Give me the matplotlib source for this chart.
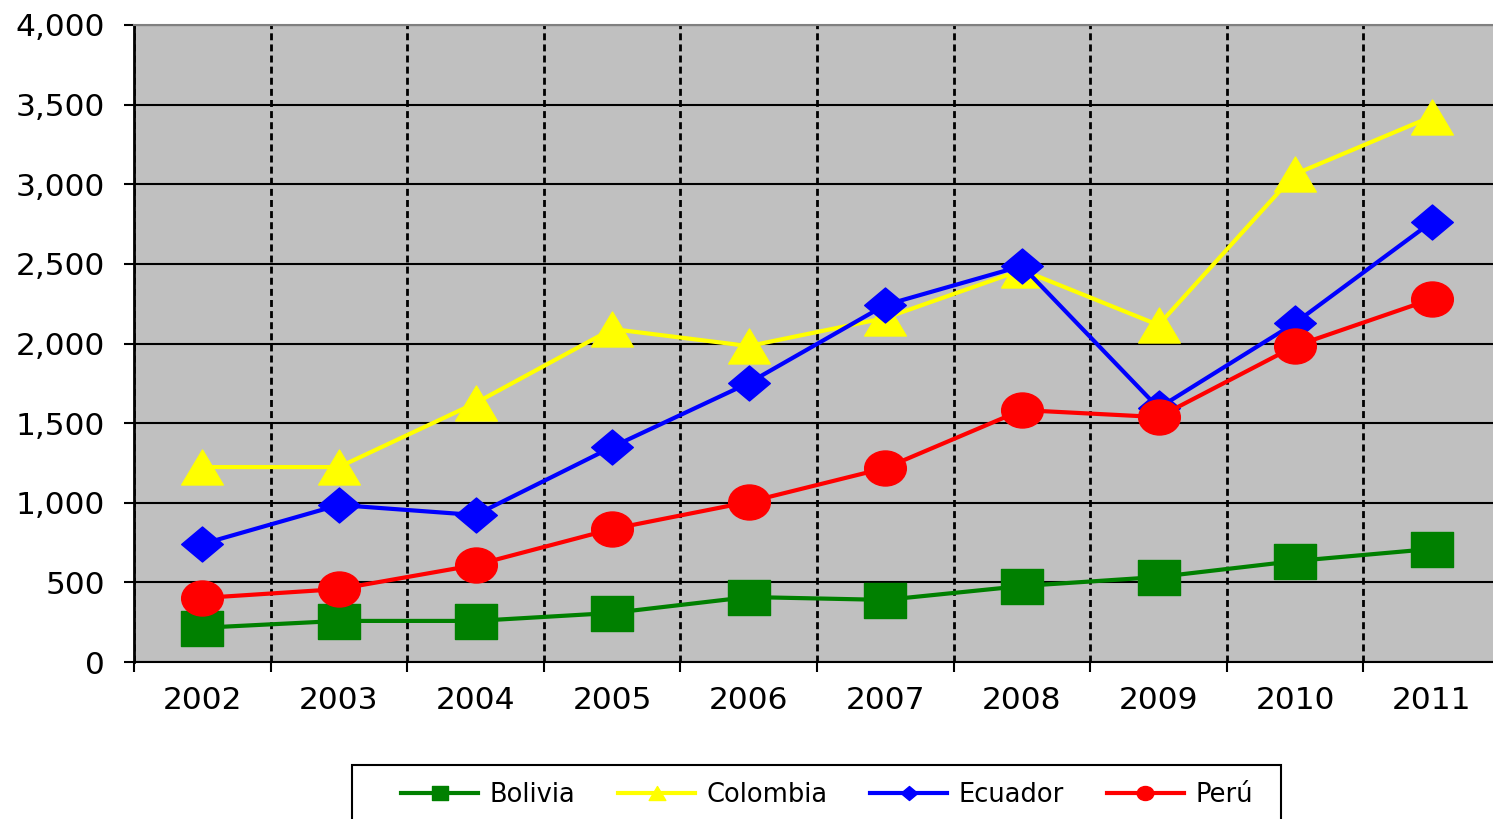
import numpy as np
import matplotlib
matplotlib.use("Agg")
import matplotlib.pyplot as plt
from matplotlib.path import Path
from matplotlib.lines import Line2D
from matplotlib.patches import Rectangle
from matplotlib.ticker import FuncFormatter, MultipleLocator

years = ["2002", "2003", "2004", "2005", "2006", "2007", "2008", "2009", "2010", "2011"]
bolivia = [215, 258, 258, 308, 408, 390, 477, 534, 634, 710]
colombia = [1224, 1224, 1626, 2091, 1984, 2160, 2462, 2116, 3064, 3425]
ecuador = [741, 986, 923, 1350, 1752, 2242, 2487, 1595, 2129, 2763]
peru = [402, 458, 609, 835, 1005, 1218, 1582, 1538, 1984, 2279]

# markers in the picture are a little wider than tall
k = 0.84
sq = Path([(-1, -k), (1, -k), (1, k), (-1, k), (-1, -k)], closed=True)
tri = Path([(-1, -k), (1, -k), (0, k), (-1, -k)], closed=True)
dia = Path([(-1, 0), (0, -k), (1, 0), (0, k), (-1, 0)], closed=True)
circ = Path.unit_circle()
ell = Path(circ.vertices * [1, k], circ.codes)

series = [
    ("Bolivia", bolivia, "#008000", sq),
    ("Colombia", colombia, "#FFFF00", tri),
    ("Ecuador", ecuador, "#0000FF", dia),
    ("Perú", peru, "#FF0000", ell),
]

W, H = 1493, 819
fig = plt.figure(figsize=(W / 100, H / 100), dpi=100)
ax = fig.add_axes([134 / W, 1 - 662 / H, (1500 - 134) / W, (662 - 25) / H])
ax.set_facecolor("#C0C0C0")

x = np.arange(len(years))
for name, vals, col, mk in series:
    ax.plot(x, vals, color=col, lw=3, marker=mk, ms=30, mec=col, mfc=col,
            zorder=3, clip_on=False)

ax.set_xlim(-0.5, len(years) - 0.5)
ax.set_ylim(0, 4000)
ax.yaxis.set_major_locator(MultipleLocator(500))
ax.yaxis.set_major_formatter(FuncFormatter(lambda v, p: f"{int(v):,}"))
ax.set_xticks(np.arange(len(years) + 1) - 0.5)
ax.set_xticklabels([])
ax.set_xticks(x, minor=True)
ax.set_xticklabels(years, minor=True)

ax.grid(axis="y", color="black", lw=1.5, zorder=1)
ax.grid(axis="x", which="major", color="black", lw=2, ls=(0, (2.5, 1.5)), zorder=1)
ax.set_axisbelow(True)

ax.tick_params(axis="y", direction="out", length=7, width=1.5, pad=14,
               labelsize=22.5, colors="black")
ax.tick_params(axis="x", which="major", direction="out", length=7, width=1.5)
ax.tick_params(axis="x", which="minor", length=0, pad=17, labelsize=22.5)

ax.spines["right"].set_visible(False)
ax.spines["top"].set_color("#808080")
ax.spines["top"].set_linewidth(1.5)
ax.spines["left"].set_linewidth(2)
ax.spines["bottom"].set_linewidth(1.5)

handles = [Line2D([], [], color=col, lw=3, marker=mk, ms=12, mec=col, mfc=col)
           for name, vals, col, mk in series]
fig.legend(handles, [s[0] for s in series], loc="center",
           bbox_to_anchor=(827 / W, 1 - 795 / H), ncol=4, frameon=False,
           fontsize=18.5, handlelength=3, handletextpad=0.45, columnspacing=1.65)
fig.patches.append(Rectangle((352 / W, 1 - 830 / H), (1281 - 352) / W, (830 - 765) / H,
                             transform=fig.transFigure, fill=False,
                             edgecolor="black", lw=1.5))

fig.savefig("out.png", dpi=100)
